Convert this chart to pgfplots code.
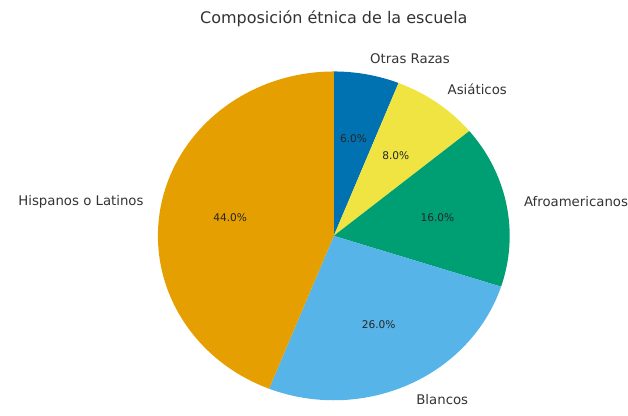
\documentclass[border=0pt]{standalone}
\usepackage{fontspec}
\setmainfont{DejaVu Sans}
\usepackage{pgfplots}
\usepackage{pgfplotstable}
\pgfplotsset{compat=1.18}
\definecolor{c0}{HTML}{0072B2}
\definecolor{c1}{HTML}{F0E442}
\definecolor{c2}{HTML}{009E73}
\definecolor{c3}{HTML}{56B4E9}
\definecolor{c4}{HTML}{E69F00}
\pgfplotstableread[col sep=comma]{
label,value
Otras Razas,6
Asiáticos,8
Afroamericanos,16
Blancos,26
Hispanos o Latinos,44
}\piedata
\begin{document}
\begin{tikzpicture}
\gdef\cumsum{0}
\pgfplotsforeachungrouped \i in {0,...,4}{%
  \pgfplotstablegetelem{\i}{value}\of\piedata
  \let\val\pgfplotsretval
  \pgfmathsetmacro\sa{90-3.6*\cumsum}%
  \pgfmathsetmacro\newcum{\cumsum+\val}%
  \pgfmathsetmacro\ea{90-3.6*\newcum}%
  \pgfmathsetmacro\ma{(\sa+\ea)/2}%
  \pgfmathsetmacro\cm{cos(\ma)}%
  \ifdim\cm pt>0pt \def\anc{west}\else\def\anc{east}\fi
  \expandafter\xdef\csname s\i\endcsname{\sa}%
  \expandafter\xdef\csname e\i\endcsname{\ea}%
  \expandafter\xdef\csname m\i\endcsname{\ma}%
  \expandafter\xdef\csname a\i\endcsname{\anc}%
  \expandafter\xdef\csname v\i\endcsname{\val}%
  \xdef\cumsum{\newcum}%
  \pgfplotstablegetelem{\i}{label}\of\piedata
  \expandafter\xdef\csname l\i\endcsname{\pgfplotsretval}%
}
\begin{axis}[
  scale only axis, width=628pt, height=416pt,
  xmin=-1.8977, xmax=1.6705, ymin=-1.0942, ymax=1.4347,
  axis lines=none, ticks=none, clip=false,
  /pgf/number format/assume math mode=true,
]
\path (rel axis cs:0,0) rectangle (rel axis cs:1,1);
\pgfplotsinvokeforeach{0,...,4}{
  \fill[c#1] (axis cs:0,0) -- plot[domain=\csname e#1\endcsname:\csname s#1\endcsname, samples=80, variable=\t] ({cos(\t)},{sin(\t)}) -- cycle;
}
\pgfplotsinvokeforeach{0,...,4}{
  \node[font=\fontsize{13.3}{16}\selectfont, text=black!80, anchor=\csname a#1\endcsname, inner sep=0pt]
    at (axis cs:{1.1*cos(\csname m#1\endcsname)},{1.1*sin(\csname m#1\endcsname)}) {\csname l#1\endcsname};
  \node[font=\fontsize{10.6}{12}\selectfont, text=black!85, inner sep=0pt]
    at (axis cs:{0.6*cos(\csname m#1\endcsname)},{0.6*sin(\csname m#1\endcsname)})
    {\pgfmathprintnumber[fixed,precision=1,zerofill]{\csname v#1\endcsname}\%};
}
\node[font=\fontsize{16}{19}\selectfont, text=black!80, inner sep=0pt] at (axis cs:0,1.319) {Composición étnica de la escuela};
\end{axis}
\end{tikzpicture}
\end{document}
